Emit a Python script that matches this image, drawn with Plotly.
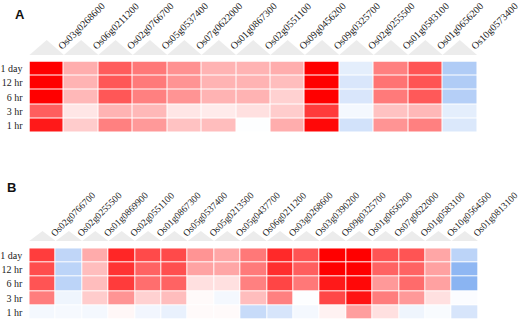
import plotly.graph_objects as go

rows = ["1 day", "12 hr", "6 hr", "3 hr", "1 hr"]

genes_a = ["Os03g0268600", "Os06g0211200", "Os02g0766700", "Os05g0537400", "Os07g0622000",
           "Os01g0867300", "Os02g0551100", "Os09g0456200", "Os09g0325700", "Os02g0255500",
           "Os01g0583100", "Os01g0656200", "Os10g0573400"]

z_a_1day = [1.00, 0.32, 0.64, 0.53, 0.43, 0.30, 0.30, 0.32, 1.00, -0.12, 0.50, 0.67, -0.35]
z_a_12hr = [1.00, 0.30, 0.66, 0.52, 0.42, 0.30, 0.30, 0.26, 1.00, -0.17, 0.55, 0.67, -0.35]
z_a_6hr  = [1.00, 0.28, 0.66, 0.50, 0.42, 0.30, 0.30, 0.18, 1.00, -0.17, 0.52, 0.65, -0.33]
z_a_3hr  = [0.63, 0.10, 0.30, 0.28, 0.10, 0.08, 0.12, 0.20, 0.77, -0.05, 0.24, 0.28, -0.12]
z_a_1hr  = [0.90, 0.20, 0.50, 0.40, 0.24, 0.26, -0.01, 0.32, 0.97, -0.20, 0.42, 0.50, -0.16]

genes_b = ["Os02g0766700", "Os02g0255500", "Os01g0869900", "Os02g0551100", "Os01g0867300",
           "Os05g0537400", "Os05g0213500", "Os05g0437700", "Os06g0211200", "Os03g0268600",
           "Os03g0390200", "Os09g0325700", "Os01g0656200", "Os07g0622000", "Os01g0583100",
           "Os10g0564500", "Os01g0813100"]

z_b_1day = [0.76, -0.28, 0.33, 0.85, 0.71, 0.71, 0.42, 0.35, 0.53, 0.84, 0.67, 1.00, 1.00, 0.67, 0.67, 0.35, -0.30]
z_b_12hr = [0.70, -0.30, 0.26, 0.80, 0.61, 0.69, 0.36, 0.35, 0.52, 0.82, 0.63, 1.00, 1.00, 0.61, 0.61, 0.37, -0.50]
z_b_6hr  = [0.67, -0.30, 0.26, 0.77, 0.57, 0.61, 0.12, 0.12, 0.50, 0.73, 0.53, 0.90, 0.97, 0.40, 0.58, 0.37, -0.52]
z_b_3hr  = [0.51, -0.07, 0.20, 0.42, 0.18, 0.26, 0.02, -0.05, 0.26, 0.50, -0.01, 0.72, 0.92, 0.51, 0.40, 0.12, -0.02]
z_b_1hr  = [-0.05, -0.04, -0.05, 0.03, -0.06, -0.10, 0.02, 0.02, -0.25, -0.18, -0.05, 0.05, 0.38, 0.12, -0.07, -0.03, -0.18]

z_a = [z_a_1day, z_a_12hr, z_a_6hr, z_a_3hr, z_a_1hr]
z_b = [z_b_1day, z_b_12hr, z_b_6hr, z_b_3hr, z_b_1hr]

colorscale = [[0.0, "rgb(30,110,230)"], [0.5, "rgb(255,255,255)"], [1.0, "rgb(255,0,0)"]]

W, H = 520, 320
dom_a_x = [29.5 / W, 477 / W]
dom_a_y = [1 - 132.5 / H, 1 - 61.5 / H]
dom_b_x = [29.3 / W, 478 / W]
dom_b_y = [1 - 319.3 / H, 1 - 248.3 / H]

fig = go.Figure()
xa = list(range(len(genes_a)))
xb = list(range(len(genes_b)))

fig.add_trace(go.Heatmap(z=z_a, x=xa, y=rows, zmin=-1, zmax=1, colorscale=colorscale,
                         showscale=False, xgap=1, ygap=1, xaxis="x", yaxis="y"))
fig.add_trace(go.Heatmap(z=z_b, x=xb, y=rows, zmin=-1, zmax=1, colorscale=colorscale,
                         showscale=False, xgap=1, ygap=1, xaxis="x2", yaxis="y2"))

serif = "Liberation Serif"
rowfont = dict(family=serif, size=10, color="#222")

def xaxis_cfg(dom, anchor, vals, names, shift, standoff, size):
    return dict(domain=dom, anchor=anchor, side="top", tickmode="array", tickvals=vals,
                ticktext=names, tickangle=-45, tickfont=dict(family=serif, size=size, color="#222"),
                showgrid=False, zeroline=False, showline=False, ticks="",
                ticklabelstandoff=standoff, ticklabelshift=shift, ticklabeloverflow="allow",
                automargin=False, range=[-0.5, len(vals) - 0.5], fixedrange=True)

def yaxis_cfg(dom, anchor):
    return dict(domain=dom, anchor=anchor, autorange="reversed", tickfont=rowfont,
                showgrid=False, zeroline=False, ticks="", ticklabelstandoff=6,
                automargin=False, fixedrange=True)

fig.update_layout(
    width=W, height=H, margin=dict(l=0, r=0, t=0, b=0, autoexpand=False),
    paper_bgcolor="white", plot_bgcolor="white",
    xaxis=xaxis_cfg(dom_a_x, "y", xa, genes_a, 12, 7, 10),
    yaxis=yaxis_cfg(dom_a_y, "x"),
    xaxis2=xaxis_cfg(dom_b_x, "y2", xb, genes_b, 9, 7, 9.5),
    yaxis2=yaxis_cfg(dom_b_y, "x2"),
)

# decorative header triangles above each column
shapes = []
for n, dom, ybase, yapex in [(len(genes_a), dom_a_x, 1 - 55 / H, 1 - 40 / H),
                             (len(genes_b), dom_b_x, 1 - 241 / H, 1 - 231 / H)]:
    w = (dom[1] - dom[0]) / n
    for i in range(n):
        x0 = dom[0] + i * w
        shapes.append(dict(type="path", xref="paper", yref="paper",
                           path=f"M {x0},{ybase} L {x0 + w / 2},{yapex} L {x0 + w},{ybase} Z",
                           fillcolor="#ececec", line=dict(width=0), layer="below"))
fig.update_layout(shapes=shapes)

fig.add_annotation(text="<b>A</b>", x=13 / W, y=1 - 5 / H, xref="paper", yref="paper",
                   xanchor="left", yanchor="top", showarrow=False,
                   font=dict(family="Liberation Sans", size=13, color="#111"))
fig.add_annotation(text="<b>B</b>", x=5 / W, y=1 - 178 / H, xref="paper", yref="paper",
                   xanchor="left", yanchor="top", showarrow=False,
                   font=dict(family="Liberation Sans", size=13, color="#111"))

fig.write_html("out.html", config={"displayModeBar": False},
               post_script="document.body.style.margin='0';document.body.style.padding='0';")
